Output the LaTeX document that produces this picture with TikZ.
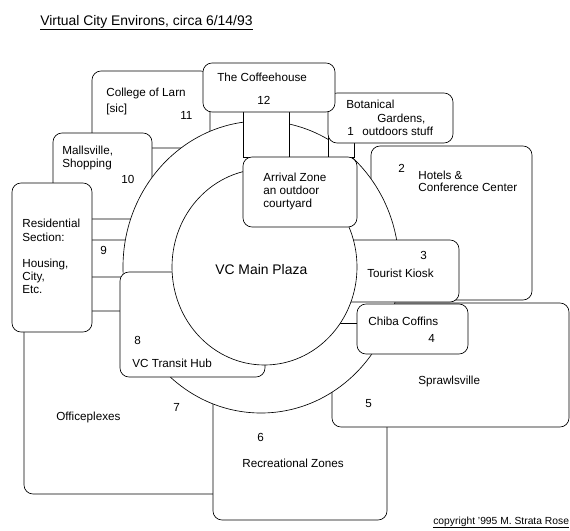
\documentclass[tikz,border=0pt]{standalone}
\usepackage{fontspec}
\setmainfont{Liberation Sans}

\begin{document}
\begin{tikzpicture}[x=1pt,y=-1pt,line width=0.65pt,
  zone/.style={draw,fill=white,rounded corners=9pt},
  lane/.style={draw,fill=white},
  lbl/.style={inner sep=0pt,anchor=base west,font=\fontsize{11.7}{13}\selectfont},
  biglbl/.style={lbl,font=\fontsize{13.9}{16}\selectfont}]
\useasboundingbox (0,0) rectangle (570,530);
% zones at the back
\draw[zone] (92,71) rectangle (210,148);
\draw[zone] (53,133) rectangle (152,219);
\draw[zone] (60,240) rectangle (190,277);
\draw[zone] (24,311) rectangle (250,494);
\draw[zone] (371,146) rectangle (532,300);
\draw[zone] (213,380) rectangle (387,520);
\draw[zone] (332,303) rectangle (569,427);
% outer ring
\draw[fill=white] (261,267) ellipse [x radius=138,y radius=146];
\draw[lane] (243,100) rectangle (289,157);
\draw[lane] (328,112) rectangle (354,157);
\draw[zone] (320,240) rectangle (459,302);
\draw[zone] (328,93) rectangle (453,143);
\draw[zone] (203,63) rectangle (335,112);
\draw[zone] (120,272) rectangle (265,377);
\draw (300,323) -- (357,323);
% main plaza
\draw[fill=white] (264.5,267) ellipse [x radius=92.5,y radius=98];
\draw[zone] (243,157) rectangle (357,227);
\draw[zone] (357,304) rectangle (468,354);
\draw[zone] (12,183) rectangle (92,332);

% labels
\node[biglbl] (ttl) at (40,25) {\underline{Virtual City Environs, circa 6/14/93}};
\node[lbl] (col1) at (106,96) {College of Larn};
\node[lbl] (col2) at (106,112) {[sic]};
\node[lbl] (n11) at (180,119) {11};
\node[lbl] (cof) at (217,81) {The Coffeehouse};
\node[lbl] (n12) at (257,104) {12};
\node[lbl] (bot1) at (346,108) {Botanical};
\node[lbl] (bot2) at (377,122) {Gardens,};
\node[lbl] (n1) at (347,135) {1};
\node[lbl] (bot3) at (362,135) {outdoors stuff};
\node[lbl] (n2) at (398,172) {2};
\node[lbl] (hot1) at (418,179) {Hotels \&};
\node[lbl] (hot2) at (418,191) {Conference Center};
\node[lbl] (arr1) at (263,181) {Arrival Zone};
\node[lbl] (arr2) at (263,194) {an outdoor};
\node[lbl] (arr3) at (263,207) {courtyard};
\node[lbl] (mal1) at (62,154) {Mallsville,};
\node[lbl] (mal2) at (62,167) {Shopping};
\node[lbl] (n10) at (121,183) {10};
\node[lbl] (res1) at (22,227) {Residential};
\node[lbl] (res2) at (22,241) {Section:};
\node[lbl] (res3) at (22,267) {Housing,};
\node[lbl] (res4) at (22,280) {City,};
\node[lbl] (res5) at (22,293) {Etc.};
\node[lbl] (n9) at (100,254) {9};
\node[biglbl] (plaza) at (215,274) {VC Main Plaza};
\node[lbl] (n3) at (420,259) {3};
\node[lbl] (kiosk) at (367,277) {Tourist Kiosk};
\node[lbl] (chiba) at (368,325) {Chiba Coffins};
\node[lbl] (n4) at (428,342) {4};
\node[lbl] (n8) at (134,344) {8};
\node[lbl] (hub) at (132,367) {VC Transit Hub};
\node[lbl] (sprawl) at (418,384) {Sprawlsville};
\node[lbl] (n5) at (365,407) {5};
\node[lbl] (n7) at (173,411) {7};
\node[lbl] (office) at (56,420) {Officeplexes};
\node[lbl] (n6) at (257,441) {6};
\node[lbl] (rec) at (242,467) {Recreational Zones};
\node[lbl,font=\fontsize{10.3}{12}\selectfont] (copy) at (433,524) {\underline{copyright '995 M. Strata Rose}};
\end{tikzpicture}
\end{document}
